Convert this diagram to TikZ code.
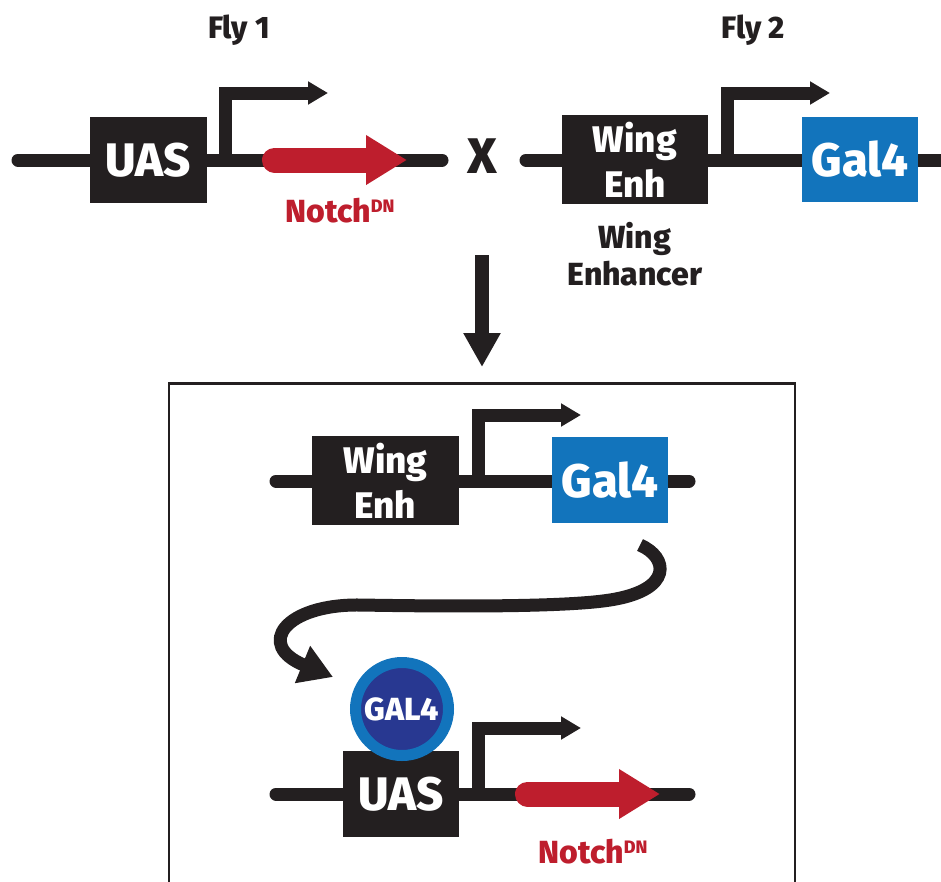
\documentclass[tikz,border=0pt]{standalone}
\usepackage{fontspec}
\setmainfont{Fira Sans}[BoldFont={Fira Sans ExtraBold}]
\usetikzlibrary{arrows.meta}
\definecolor{dk}{HTML}{231F20}
\definecolor{rd}{HTML}{BE1E2D}
\definecolor{bl}{HTML}{1274BC}
\definecolor{nv}{HTML}{283891}
\newcommand{\fs}[1]{\fontsize{#1}{#1}\selectfont}
\newcommand{\fsb}[2]{\fontsize{#1}{#2}\selectfont}
\newcommand{\notchdn}{Notch\raisebox{10pt}{\fs{18}DN}}
\begin{document}
\begin{tikzpicture}[x=1pt,y=-1pt,
  backbone/.style={draw=dk, line width=13pt, line cap=round},
  blkbox/.style={fill=dk, draw=none, inner sep=0pt, text=white, align=center},
  galbox/.style={fill=bl, draw=none, inner sep=0pt, text=white, font=\bfseries\fs{47}},
  prom/.style={draw=dk, line width=13pt, -{Triangle[length=20pt,width=22pt]}},
  cds/.style={draw=rd, line width=25pt, line cap=round, -{Triangle[length=41pt,width=47pt]}},
  lbl/.style={inner sep=0pt, anchor=base},
  bigarrow/.style={draw=dk, line width=14pt, -{Triangle[length=34pt,width=35pt]}}]
\useasboundingbox (0,0) rectangle (941,881);

% labels
\node[lbl, text=dk, font=\bfseries\fs{31}] (fly1) at (239,38) {Fly 1};
\node[lbl, text=dk, font=\bfseries\fs{31}] (fly2) at (753.5,38) {Fly 2};
\node[lbl, text=dk, font=\bfseries\fs{50}] (cross) at (482,173) {X};

% Fly 1 construct
\coordinate (l1a) at (18,160); \coordinate (l1b) at (442,160);
\draw[backbone] (l1a) -- (l1b);
\node[blkbox, minimum width=117pt, minimum height=86pt, font=\bfseries\fs{47}] (uas1) at (148.5,160) {UAS};
\coordinate (p1a) at (225,160); \coordinate (p1b) at (225,93); \coordinate (p1c) at (328,93);
\draw[prom] (p1a) -- (p1b) -- (p1c);
\coordinate (n1a) at (274.5,160); \coordinate (n1b) at (407,160);
\draw[cds] (n1a) -- (n1b);
\node[lbl, text=rd, font=\bfseries\fs{32}] (notch1) at (340,222) {\notchdn};

% Fly 2 construct
\coordinate (l2a) at (526,160); \coordinate (l2b) at (955,160);
\draw[backbone] (l2a) -- (l2b);
\node[blkbox, minimum width=146pt, minimum height=89pt, font={\bfseries\fsb{37}{45}}] (we1) at (635,159.5) {Wing\\Enh};
\coordinate (p2a) at (727,160); \coordinate (p2b) at (727,93); \coordinate (p2c) at (830,93);
\draw[prom] (p2a) -- (p2b) -- (p2c);
\node[galbox, minimum width=116pt, minimum height=85pt] (gal1) at (860,159.5) {Gal4};
\node[lbl, text=dk, font=\bfseries\fs{32}] (wenh) at (635,248) {Wing};
\node[lbl, text=dk, font=\bfseries\fs{32}] (wenh2) at (635,285) {Enhancer};

% down arrow
\coordinate (d1) at (482,255); \coordinate (d2) at (482,367);
\draw[bigarrow] (d1) -- (d2);

% frame
\draw[dk, line width=2.4pt] (169,890) -- (169,383.5) -- (795,383.5) -- (795,890);

% middle construct
\coordinate (l3a) at (276,481); \coordinate (l3b) at (689,481);
\draw[backbone] (l3a) -- (l3b);
\node[blkbox, minimum width=147pt, minimum height=89pt, font={\bfseries\fsb{37}{45}}] (we2) at (385.5,480.5) {Wing\\Enh};
\coordinate (p3a) at (478,481); \coordinate (p3b) at (478,415); \coordinate (p3c) at (581,415);
\draw[prom] (p3a) -- (p3b) -- (p3c);
\node[galbox, minimum width=116pt, minimum height=86pt] (gal2) at (610,480) {Gal4};

% bottom construct
\coordinate (l4a) at (276,794); \coordinate (l4b) at (689,794);
\draw[backbone] (l4a) -- (l4b);
\node[blkbox, minimum width=116pt, minimum height=86pt, font=\bfseries\fs{47}] (uas2) at (401,794) {UAS};
\coordinate (p4a) at (478,794); \coordinate (p4b) at (478,728); \coordinate (p4c) at (581,728);
\draw[prom] (p4a) -- (p4b) -- (p4c);
\coordinate (n2a) at (527.5,794); \coordinate (n2b) at (660,794);
\draw[cds] (n2a) -- (n2b);
\node[lbl, text=rd, font=\bfseries\fs{32}] (notch2) at (593,863) {\notchdn};

% GAL4 protein
\node[circle, fill=nv, draw=bl, line width=11pt, minimum size=93pt, inner sep=0pt, text=white, font=\bfseries\fs{32}] (gal4p) at (402,709) {GAL4};

% curved arrow
\coordinate (c1) at (640,545); \coordinate (c2) at (333,677);
\draw[draw=dk, line width=13pt, -{Triangle[length=33pt,width=38pt]}]
  (c1) .. controls (668,557) and (674,590) .. (610,600)
       .. controls (560,608) and (420,606) .. (360,605)
       .. controls (285,604) and (255,645) .. (c2);
\end{tikzpicture}
\end{document}
